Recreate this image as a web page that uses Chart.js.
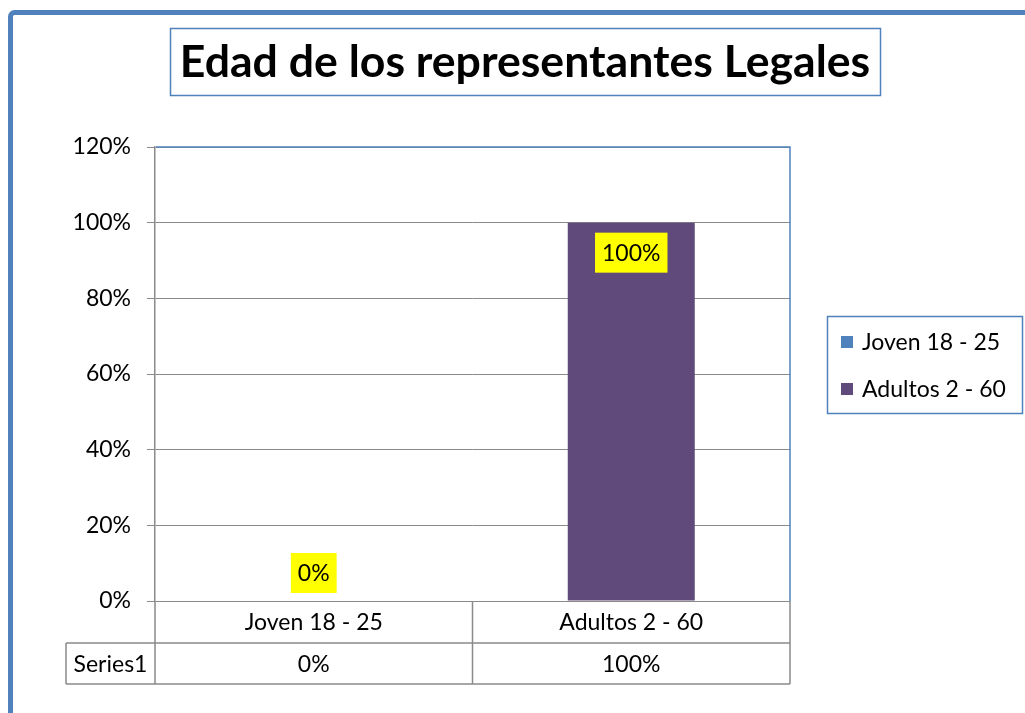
<!DOCTYPE html>
<html lang="es">
<head>
<meta charset="utf-8">
<title>Edad de los representantes Legales</title>
<script src="https://cdn.jsdelivr.net/npm/chart.js"></script>
<style>
  html, body { margin: 0; padding: 0; background: #fff; }
</style>
</head>
<body>
<canvas id="mycanvas" width="1025" height="713"></canvas>

<script>
// datos
var titulo = 'Edad de los representantes Legales';
var categorias = ['Joven 18 - 25', 'Adultos 2 - 60'];
var valores = [0, 100];
var serie = 'Series1';
var yTicks = [0, 20, 40, 60, 80, 100, 120];

var colores = ['#4F81BD', '#604A7B'];
var AZUL = '#4F81BD';
var GRIS = '#8a8a8a';
var FONT = 'Lato, "Liberation Sans", sans-serif';
var TXT = 23;

// marco azul + caja del titulo
var marco = {
  id: 'marco',
  beforeDraw: function(chart) {
    var ctx = chart.ctx;
    ctx.save();
    ctx.fillStyle = '#fff';
    ctx.fillRect(0, 0, chart.width, chart.height);
    ctx.strokeStyle = AZUL;
    ctx.lineWidth = 5;
    ctx.beginPath();
    ctx.moveTo(10.5, chart.height + 5);
    ctx.arcTo(10.5, 12.5, 30, 12.5, 4);
    ctx.lineTo(chart.width + 5, 12.5);
    ctx.stroke();

    // titulo
    ctx.font = 'bold 43px ' + FONT;
    var w = ctx.measureText(titulo).width;
    var size = 43 * 690 / w;
    ctx.font = 'bold ' + size.toFixed(1) + 'px ' + FONT;
    ctx.fillStyle = '#000';
    ctx.textAlign = 'center';
    ctx.textBaseline = 'middle';
    ctx.fillText(titulo, 525, 63);
    ctx.strokeStyle = AZUL;
    ctx.lineWidth = 1.5;
    ctx.strokeRect(170.5, 28.5, 710, 67);
    ctx.restore();
  }
};

// etiquetas amarillas
var etiquetas = {
  id: 'etiquetas',
  afterDatasetsDraw: function(chart) {
    var ctx = chart.ctx;
    var meta = chart.getDatasetMeta(0);
    ctx.save();
    ctx.font = TXT + 'px ' + FONT;
    ctx.textAlign = 'center';
    ctx.textBaseline = 'middle';
    meta.data.forEach(function(bar, i) {
      var txt = valores[i] + '%';
      var w = ctx.measureText(txt).width + 14, h = 40;
      var top = valores[i] > 10 ? bar.y + 10 : bar.y - 8 - h;
      ctx.fillStyle = '#FFFF00';
      ctx.fillRect(bar.x - w / 2, top, w, h);
      ctx.fillStyle = '#000';
      ctx.fillText(txt, bar.x, top + h / 2 + 1);
    });
    ctx.restore();
  }
};

// borde del area, leyenda y tabla de datos
var extras = {
  id: 'extras',
  afterDraw: function(chart) {
    var ctx = chart.ctx, a = chart.chartArea, x = chart.scales.x;
    ctx.save();

    // borde superior y derecho del area
    ctx.strokeStyle = AZUL;
    ctx.lineWidth = 1.5;
    ctx.beginPath();
    ctx.moveTo(a.left + 1, a.top);
    ctx.lineTo(a.right, a.top);
    ctx.lineTo(a.right, a.bottom);
    ctx.stroke();

    // leyenda
    var lx = a.right + 37, ly = 316;
    ctx.strokeStyle = AZUL;
    ctx.lineWidth = 1.5;
    ctx.strokeRect(lx + 0.5, ly + 0.5, 195, 97);
    ctx.font = TXT + 'px ' + FONT;
    ctx.textAlign = 'left';
    ctx.textBaseline = 'middle';
    categorias.forEach(function(c, i) {
      var cy = ly + 26 + i * 47;
      ctx.fillStyle = colores[i];
      ctx.fillRect(lx + 14, cy - 6, 12, 12);
      ctx.fillStyle = '#000';
      ctx.fillText(c, lx + 35, cy + 1);
    });

    // tabla de datos
    var catW = (a.right - a.left) / categorias.length;
    var y0 = a.bottom, y1 = y0 + 42, y2 = y1 + 41;
    var x0 = a.left - 89;
    ctx.strokeStyle = GRIS;
    ctx.lineWidth = 1.5;
    ctx.beginPath();
    ctx.moveTo(x0, y1); ctx.lineTo(a.right, y1);
    ctx.moveTo(x0, y2); ctx.lineTo(a.right, y2);
    ctx.moveTo(x0, y1); ctx.lineTo(x0, y2);
    for (var i = 0; i <= categorias.length; i++) {
      var vx = a.left + i * catW;
      ctx.moveTo(vx, y0); ctx.lineTo(vx, y2);
    }
    ctx.stroke();

    ctx.fillStyle = '#000';
    ctx.font = TXT + 'px ' + FONT;
    ctx.textAlign = 'center';
    categorias.forEach(function(c, i) {
      var cx = x.getPixelForValue(i);
      ctx.fillText(c, cx, (y0 + y1) / 2 + 1);
      ctx.fillText(valores[i] + '%', cx, (y1 + y2) / 2 + 1);
    });
    ctx.fillText(serie, (x0 + a.left) / 2, (y1 + y2) / 2 + 1);
    ctx.restore();
  }
};

var ctx = document.getElementById('mycanvas');
var grafico = new Chart(ctx, {
  type: 'bar',
  data: {
    labels: categorias,
    datasets: [{
      label: serie,
      data: valores,
      backgroundColor: colores,
      borderWidth: 0,
      barPercentage: 1,
      categoryPercentage: 0.4
    }]
  },
  options: {
    responsive: false,
    animation: false,
    devicePixelRatio: 1,
    layout: { padding: { top: 147, right: 235, bottom: 112, left: 0 } },
    plugins: {
      legend: { display: false },
      title: { display: false },
      tooltip: { enabled: false }
    },
    scales: {
      x: { display: false },
      y: {
        min: yTicks[0],
        max: yTicks[yTicks.length - 1],
        afterFit: function(scale) { scale.width = 155; },
        afterBuildTicks: function(scale) {
          scale.ticks = yTicks.map(function(v) { return { value: v }; });
        },
        grid: { color: GRIS, lineWidth: 1, tickLength: 8 },
        border: { display: true, color: GRIS, width: 1.5 },
        ticks: {
          color: '#000',
          padding: 16,
          font: { family: FONT, size: TXT },
          callback: function(v) { return v + '%'; }
        }
      }
    }
  },
  plugins: [marco, etiquetas, extras]
});
</script>
</body>
</html>
